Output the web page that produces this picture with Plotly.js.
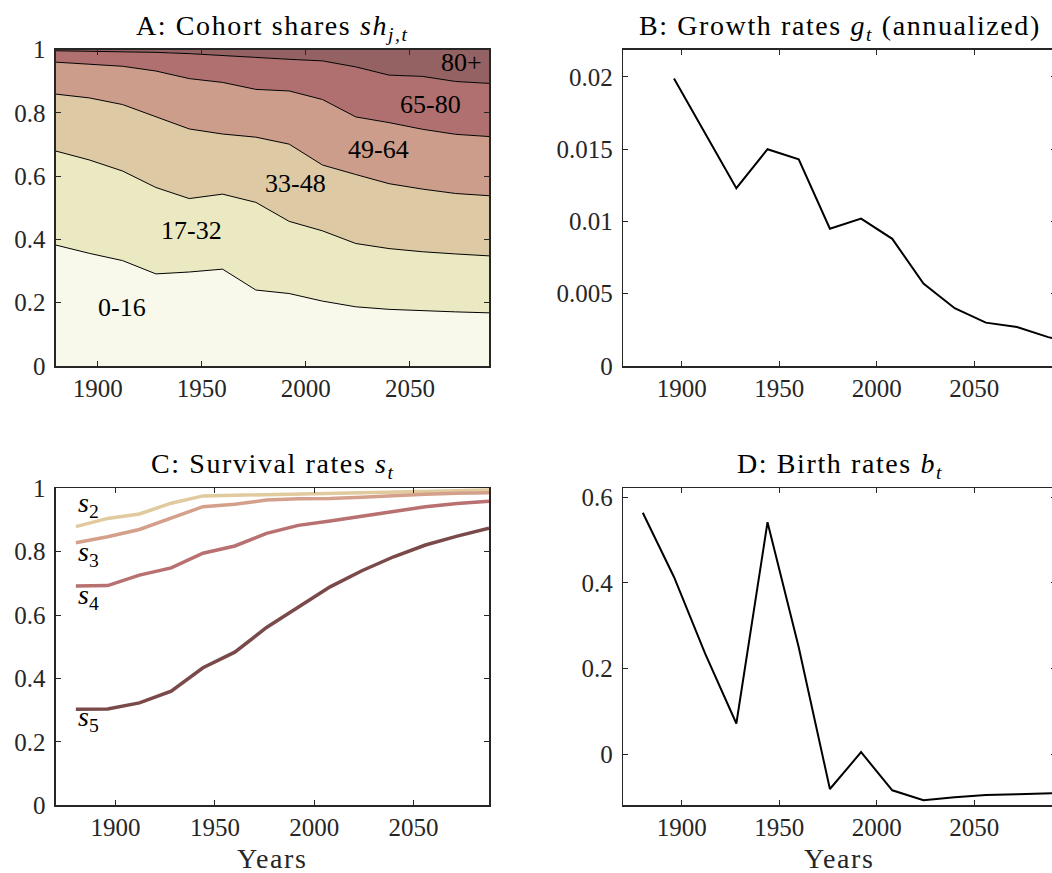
<!DOCTYPE html>
<html><head><meta charset="utf-8">
<script src="https://cdn.plot.ly/plotly-3.0.1.min.js"></script>
<style>html,body{margin:0;padding:0;overflow:hidden;background:#fff}</style>
</head><body><div id="chart" style="width:1060px;height:873px"></div>
<script>
// ---- data ----
const years = [1880,1896,1912,1928,1944,1960,1976,1992,2008,2024,2040,2056,2072,2088];
// cohort shares sh_{j,t}
const share0_16  = [0.382,0.356,0.333,0.291,0.297,0.306,0.240,0.229,0.205,0.187,0.179,0.174,0.171,0.168];
const share17_32 = [0.297,0.295,0.283,0.273,0.232,0.237,0.277,0.228,0.222,0.200,0.192,0.187,0.183,0.180];
const share33_48 = [0.180,0.196,0.210,0.223,0.220,0.190,0.206,0.244,0.208,0.218,0.205,0.198,0.191,0.190];
const share49_64 = [0.101,0.107,0.121,0.145,0.159,0.163,0.151,0.168,0.207,0.182,0.193,0.189,0.187,0.187];
const share65_80 = [0.036,0.041,0.047,0.059,0.079,0.086,0.101,0.100,0.122,0.158,0.150,0.167,0.167,0.168];
const share80p   = [0.004,0.005,0.006,0.009,0.013,0.018,0.025,0.031,0.036,0.055,0.081,0.085,0.101,0.107];
const cohortNames = ['0-16','17-32','33-48','49-64','65-80','80+'];

// growth rates g_t (annualized)
const growthYears = [1896,1912,1928,1944,1960,1976,1992,2008,2024,2040,2056,2072,2088,2104];
const growth = [0.0199,0.0161,0.0123,0.0150,0.0143,0.0095,0.0102,0.0088,0.0057,0.0040,0.0030,0.0027,0.0020,0.0015];

// survival rates s_t
const surv2 = [0.879,0.905,0.919,0.953,0.976,0.978,0.980,0.982,0.984,0.985,0.987,0.989,0.992,0.996];
const surv3 = [0.828,0.847,0.870,0.905,0.942,0.950,0.963,0.967,0.968,0.972,0.977,0.981,0.984,0.986];
const surv4 = [0.692,0.693,0.726,0.749,0.795,0.818,0.858,0.883,0.897,0.912,0.929,0.942,0.952,0.959];
const surv5 = [0.303,0.304,0.323,0.360,0.434,0.483,0.561,0.626,0.689,0.740,0.784,0.821,0.849,0.874];

// birth rates b_t
const birthYears = [1880,1896,1912,1928,1944,1960,1976,1992,2008,2024,2040,2056,2072,2088,2104];
const birth = [0.564,0.414,0.235,0.072,0.542,0.250,-0.081,0.005,-0.084,-0.107,-0.100,-0.095,-0.093,-0.090,-0.089];

// tick labels
const yearTicks = [1900,1950,2000,2050];
const shareTicks = [0,0.2,0.4,0.6,0.8,1];
const shareTickText = ['0','0.2','0.4','0.6','0.8','1'];
const growthTicks = [0,0.005,0.01,0.015,0.02];
const growthTickText = ['0','0.005','0.01','0.015','0.02'];
const birthTicks = [0,0.2,0.4,0.6];
const birthTickText = ['0','0.2','0.4','0.6'];
const xTitle = 'Years';

// ---- styling ----
const FONT = 'Liberation Serif';
const AXC = '#262626';
const cohortColors = ['#f8f8eb','#ebe9c1','#ddc9a4','#cc9d8a','#b07070','#946262'];
const survColors = ['#e0ca9e','#d4a08b','#b87070','#7a4a4a'];
const sp = t => '<span style="letter-spacing:1.6px">'+t+'</span>';

const traces = [];
const shares = [share0_16,share17_32,share33_48,share49_64,share65_80,share80p];
shares.forEach((s,i)=>{
  traces.push({x:years,y:s,type:'scatter',mode:'lines',stackgroup:'one',name:cohortNames[i],
    fillcolor:cohortColors[i],line:{color:'#000',width:1},xaxis:'x',yaxis:'y',hoverinfo:'x+y'});
});
traces.push({x:growthYears,y:growth,type:'scatter',mode:'lines',line:{color:'#000',width:2},xaxis:'x2',yaxis:'y2'});
[surv2,surv3,surv4,surv5].forEach((s,i)=>{
  traces.push({x:years,y:s,type:'scatter',mode:'lines',line:{color:survColors[i],width:3.5},xaxis:'x3',yaxis:'y3'});
});
traces.push({x:birthYears,y:birth,type:'scatter',mode:'lines',line:{color:'#000',width:2},xaxis:'x4',yaxis:'y4'});

const W=1060,H=873;
const xL=[56/W,489/W], xR=[623.3/W,1056/W];
const yT=[1-366/H,1-49.5/H], yB=[1-805.3/H,1-488.3/H];

function xax(dom,range,anchor){
  return {domain:dom,range:range,anchor:anchor,tickvals:yearTicks,ticktext:yearTicks.map(String),
    showline:true,mirror:'allticks',linecolor:AXC,linewidth:1.6,ticks:'inside',ticklen:5,tickwidth:1,tickcolor:AXC,
    showgrid:false,zeroline:false,tickfont:{family:FONT,size:25,color:AXC},ticklabelstandoff:-1};
}
function yax(dom,range,anchor,tv,tt){
  return {domain:dom,range:range,anchor:anchor,tickvals:tv,ticktext:tt,
    showline:true,mirror:'allticks',linecolor:AXC,linewidth:1.6,ticks:'inside',ticklen:5,tickwidth:1,tickcolor:AXC,
    showgrid:false,zeroline:false,tickfont:{family:FONT,size:25,color:AXC},ticklabelstandoff:4};
}

function ttl(x,y,text){return {xref:'paper',yref:'paper',x:x,y:y,yanchor:'bottom',xanchor:'center',text:sp(text),showarrow:false,font:{family:FONT,size:28,color:'#000'},yshift:3};}
function xlab(x){return {xref:'paper',yref:'paper',x:x,y:yB[0],yanchor:'top',xanchor:'center',text:sp(xTitle),showarrow:false,font:{family:FONT,size:28,color:AXC},yshift:-36};}
function lbl(x,y,text){return {xref:'x',yref:'y',x:x,y:y,text:text,showarrow:false,font:{family:FONT,size:26,color:'#000'},xanchor:'center',yanchor:'middle'};}
function slbl(y,n){return {xref:'x3',yref:'y3',x:1880.2,y:y,text:'<i>s</i><sub>'+n+'</sub>',showarrow:false,font:{family:FONT,size:28,color:'#000'},xanchor:'left',yanchor:'middle',yshift:3};}

const layout={
  width:W,height:H,margin:{l:0,r:0,t:0,b:0},paper_bgcolor:'#fff',plot_bgcolor:'#fff',showlegend:false,
  font:{family:FONT},
  xaxis:xax(xL,[1880,2088],'y'), yaxis:yax(yT,[0,1],'x',shareTicks,shareTickText),
  xaxis2:xax(xR,[1870,2092],'y2'), yaxis2:yax(yT,[0,0.0219],'x2',growthTicks,growthTickText),
  xaxis3:xax(xL,[1870,2088],'y3'), yaxis3:yax(yB,[0,1],'x3',shareTicks,shareTickText),
  xaxis4:xax(xR,[1870,2092],'y4'), yaxis4:yax(yB,[-0.119,0.621],'x4',birthTicks,birthTickText),
  annotations:[
    ttl((xL[0]+xL[1])/2,yT[1],'A: Cohort shares <i>sh</i><sub><i>j,t</i></sub>'),
    ttl((xR[0]+xR[1])/2,yT[1],'B: Growth rates <i>g</i><sub><i>t</i></sub> (annualized)'),
    ttl((xL[0]+xL[1])/2,yB[1],'C: Survival rates <i>s</i><sub><i>t</i></sub>'),
    ttl((xR[0]+xR[1])/2,yB[1],'D: Birth rates <i>b</i><sub><i>t</i></sub>'),
    xlab((xL[0]+xL[1])/2), xlab((xR[0]+xR[1])/2),
    lbl(1911.6,0.184,cohortNames[0]),
    lbl(1945.3,0.427,cohortNames[1]),
    lbl(1995,0.576,cohortNames[2]),
    lbl(2035,0.685,cohortNames[3]),
    lbl(2060,0.826,cohortNames[4]),
    lbl(2074.9,0.959,cohortNames[5]),
    slbl(0.939,2), slbl(0.786,3), slbl(0.650,4), slbl(0.263,5)
  ]
};
Plotly.newPlot('chart',traces,layout,{staticPlot:true});
</script></body></html>
